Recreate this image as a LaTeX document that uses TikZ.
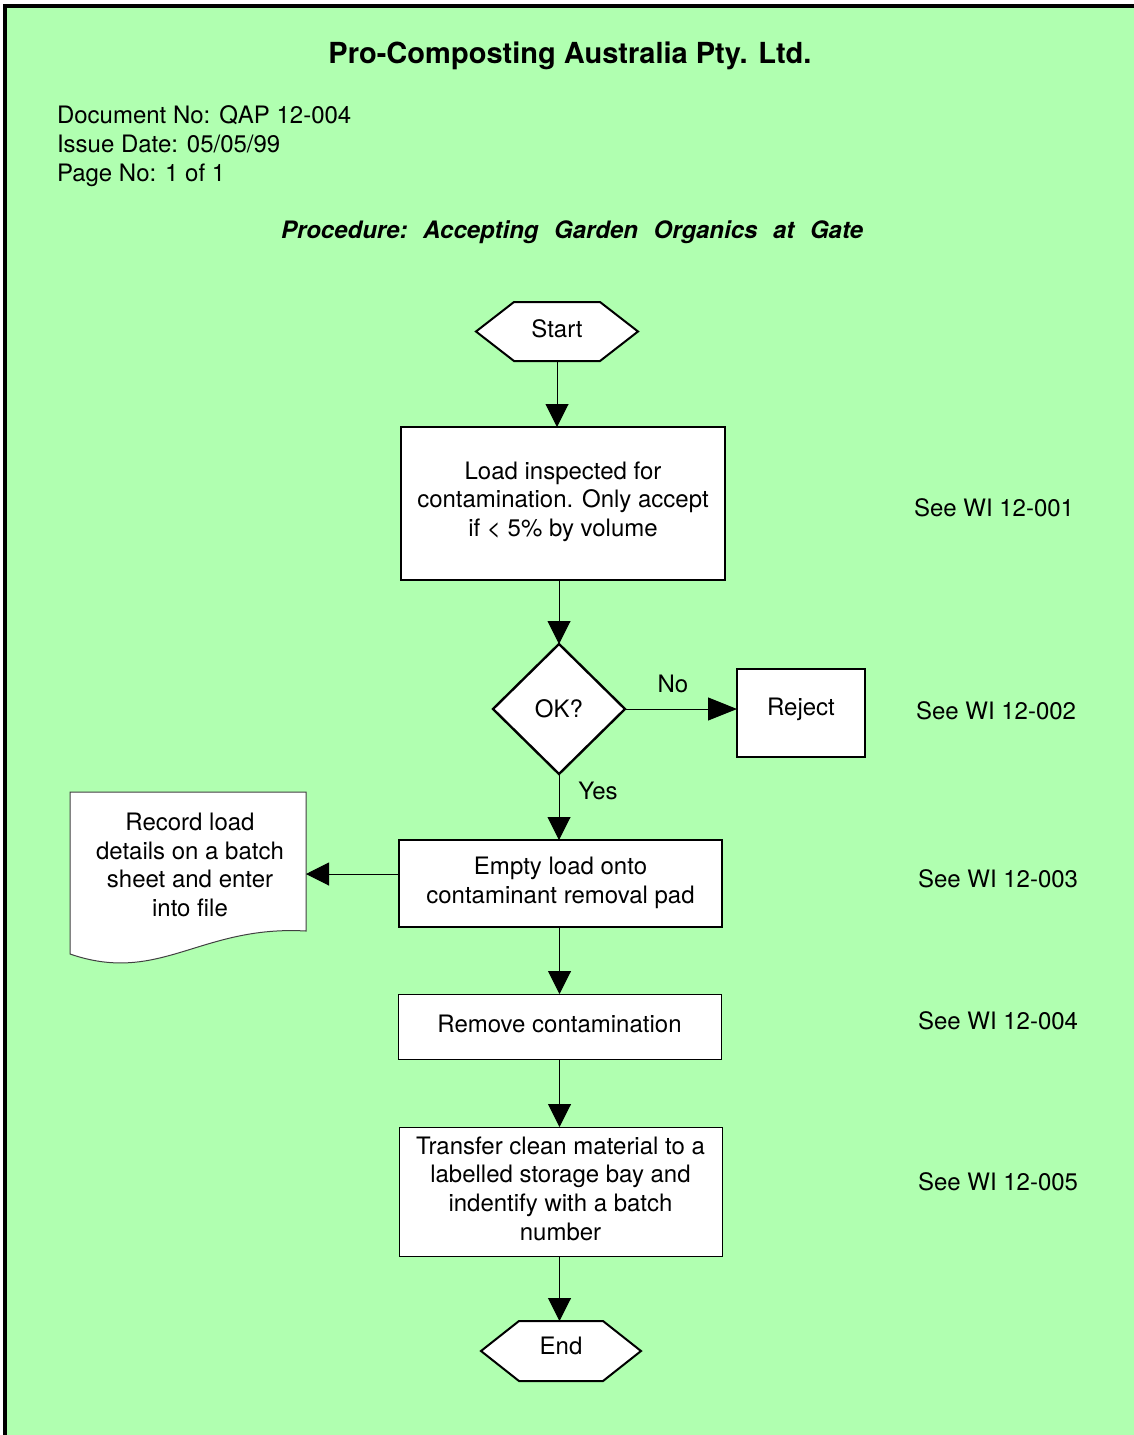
\documentclass[tikz,border=0pt]{standalone}
\usepackage{fontspec}
\setmainfont{TeX Gyre Heros}
\usetikzlibrary{arrows.meta,shapes.geometric,calc}
\pgfdeclarelayer{back}
\pgfdeclarelayer{mid}
\pgfsetlayers{back,mid,main}
\definecolor{bggreen}{RGB}{176,255,176}
\begin{document}
\begin{tikzpicture}[x=1pt,y=-1pt,
  every node/.style={font=\fontsize{24}{28.7}\selectfont, inner sep=0pt, outer sep=0pt},
  boxthick/.style={draw, line width=2.4pt, fill=white, align=center, rectangle},
  boxthin/.style={draw, line width=1pt, fill=white, align=center, rectangle},
  hexline/.style={draw, line width=2pt, fill=white, line join=miter},
  conn/.style={line width=1pt, -{Triangle[length=23pt,width=23pt]}},
  connlong/.style={line width=1pt, -{Triangle[length=29pt,width=23pt]}},
  txt/.style={anchor=base west},
  ctxt/.style={anchor=base}
]
\useasboundingbox (0,0) rectangle (1134,1435);
\begin{pgfonlayer}{back}
  \fill[bggreen] (5,5.5) rectangle (1134,1435);
  \draw[line width=4pt] (5,1435) -- (5,5.5) -- (1134,5.5);
\end{pgfonlayer}

% header texts
\node[ctxt, font=\fontsize{29}{34}\selectfont\bfseries] (title) at (570,63) {Pro-Composting Australia Pty. Ltd.};
\node[txt] (docno) at (57,123.6) {Document No: QAP 12-004};
\node[txt] (issue) at (57,152.6) {Issue Date: 05/05/99};
\node[txt] (page) at (57,181.6) {Page No: 1 of 1};
\node[txt, font=\fontsize{24}{28}\selectfont\bfseries\itshape] (proc) at (281,238.6)
  {Procedure:\hspace{15.6pt}Accepting\hspace{15.6pt}Garden\hspace{15.6pt}Organics\hspace{15.6pt}at\hspace{15.6pt}Gate};

% start
\node[minimum width=162pt, minimum height=59pt, text depth=6pt] (start) at (557,331.5) {Start};
% boxes
\node[boxthick, minimum width=324pt, minimum height=153pt, text depth=9pt] (box1) at (563,503.5)
  {Load inspected for\\contamination. Only accept\\if < 5\% by volume};
\node[diamond, draw, line width=2.4pt, fill=white, minimum width=132pt, minimum height=130pt] (ok) at (559,709) {OK?};
\node[boxthick, minimum width=128pt, minimum height=88pt, text depth=13pt] (reject) at (801,713) {Reject};
\node[boxthick, minimum width=323pt, minimum height=87pt, text depth=6pt] (box2) at (560.5,883.5)
  {Empty load onto\\contaminant removal pad};
\node[align=center, minimum width=232pt, minimum height=139pt] (doc) at (190,865)
  {Record load\\details on a batch\\sheet and enter\\into file};
\node[boxthin, minimum width=323pt, minimum height=65pt, text depth=6pt] (box3) at (559.5,1026.5)
  {Remove contamination};
\node[boxthin, minimum width=323pt, minimum height=129pt, text depth=6pt] (box4) at (560.5,1191.5)
  {Transfer clean material to a\\labelled storage bay and\\indentify with a batch\\number};
\node[minimum width=160pt, minimum height=60pt, text depth=10pt] (finish) at (561,1351) {End};

% shapes drawn under the texts
\begin{pgfonlayer}{mid}
  \draw[hexline] (start.west) -- ([xshift=38pt]start.north west) -- ([xshift=-38pt]start.north east)
    -- (start.east) -- ([xshift=-38pt]start.south east) -- ([xshift=38pt]start.south west) -- cycle;
  \draw[hexline] (finish.west) -- ([xshift=38pt]finish.north west) -- ([xshift=-38pt]finish.north east)
    -- (finish.east) -- ([xshift=-38pt]finish.south east) -- ([xshift=38pt]finish.south west) -- cycle;
  \draw[line width=1pt, draw=black!75, fill=white] (306,931) -- (306,792) -- (70,792) -- (70,954)
    .. controls (160,985) and (200,925) .. (306,931) -- cycle;
\end{pgfonlayer}

% side labels
\node[txt] (wi1) at (914,516.6) {See WI 12-001};
\node[txt] (wi2) at (916,719.6) {See WI 12-002};
\node[txt] (wi3) at (918,887.6) {See WI 12-003};
\node[txt] (wi4) at (918,1029.6) {See WI 12-004};
\node[txt] (wi5) at (918,1190.6) {See WI 12-005};
\node[ctxt] (nolab) at (673,692) {No};
\node[ctxt] (yeslab) at (598,799) {Yes};

% connectors
\draw[conn] (start.south) -- (start.south |- box1.north);
\draw[conn] (ok.north |- box1.south) -- (ok.north);
\draw[connlong] (ok.east) -- (ok.east -| reject.west);
\draw[conn] (ok.south) -- (ok.south |- box2.north);
\coordinate (recin) at ([yshift=9.5pt]box2.west);
\draw[conn] (recin) -- (recin -| doc.east);
\draw[conn] (box3.north |- box2.south) -- (box3.north);
\draw[conn] (box3.south) -- (box3.south |- box4.north);
\draw[conn] (box3.south |- box4.south) -- (box3.south |- finish.north);
\end{tikzpicture}
\end{document}
